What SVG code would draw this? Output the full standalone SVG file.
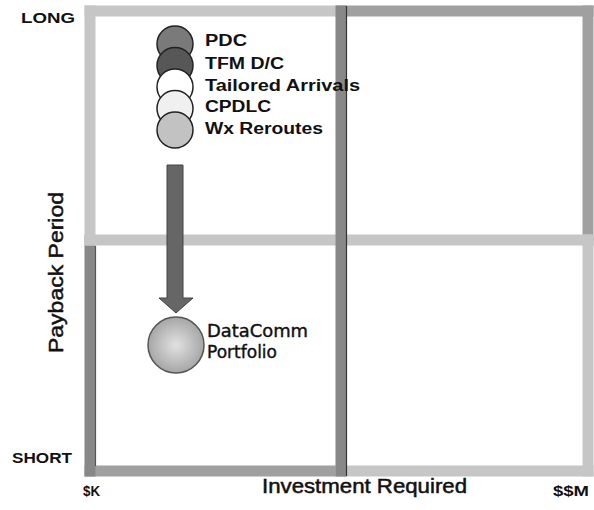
<svg xmlns="http://www.w3.org/2000/svg" width="594" height="510" viewBox="0 0 594 510">
<defs>
<style>
.edge{fill:none;stroke-width:11;stroke-linecap:square}
.light{stroke:#c6c6c6}
.mid{stroke:#a0a0a0}
.dark{stroke:#888}
.lbl{font-family:"Liberation Sans",Arial,sans-serif;font-weight:bold;fill:#111}
.axis{font-family:"Liberation Sans",Arial,sans-serif;fill:#111;stroke:#111;stroke-width:0.5}
.node{stroke:#222;stroke-width:1.5}
.pf{font-family:"DejaVu Sans",Verdana,sans-serif;fill:#111;stroke:#111;stroke-width:0.4}
.arrow{fill:#666;stroke:#444;stroke-width:1}
</style>
<radialGradient id="pfGrad" cx="0.5" cy="0.5" r="0.5">
<stop offset="0" stop-color="#e2e2e2"/>
<stop offset="1" stop-color="#a6a6a6"/>
</radialGradient>
</defs>
<rect width="594" height="510" fill="#fff"/>
<g id="quadrants">
<line class="edge mid" x1="341" y1="11" x2="588" y2="11"/>
<line class="edge mid" x1="588" y1="11" x2="588" y2="240"/>
<line class="edge mid" x1="90" y1="471" x2="341" y2="471"/>
<line class="edge dark" x1="90" y1="240" x2="90" y2="471"/>
<line x1="95.5" y1="246" x2="95.5" y2="466" stroke="#555" stroke-width="1.2"/>
<line class="edge light" x1="341" y1="471" x2="588" y2="471"/>
<line class="edge light" x1="588" y1="240" x2="588" y2="471"/>
<line class="edge light" x1="90" y1="11" x2="341" y2="11"/>
<line class="edge light" x1="90" y1="11" x2="90" y2="240"/>
<line class="edge light" x1="90" y1="240" x2="588" y2="240"/>
<line class="edge dark" x1="341" y1="11" x2="341" y2="471"/>
<line x1="346.5" y1="6" x2="346.5" y2="476" stroke="#333" stroke-width="1.2"/>
</g>
<g id="axis-labels">
<text class="lbl" x="21" y="23" font-size="15" textLength="54" lengthAdjust="spacingAndGlyphs">LONG</text>
<text class="lbl" x="12" y="463" font-size="14" textLength="60" lengthAdjust="spacingAndGlyphs">SHORT</text>
<text class="lbl" x="83" y="496" font-size="14" textLength="17" lengthAdjust="spacingAndGlyphs">$K</text>
<text class="lbl" x="553" y="496" font-size="14" textLength="36" lengthAdjust="spacingAndGlyphs">$$M</text>
<text class="axis" x="262" y="493" font-size="20" textLength="205" lengthAdjust="spacingAndGlyphs">Investment Required</text>
<text class="axis" transform="translate(63,272.5) rotate(-90)" x="0" y="0" text-anchor="middle" font-size="20" textLength="161" lengthAdjust="spacingAndGlyphs">Payback Period</text>
</g>
<g id="node-pdc">
<circle class="node" cx="175" cy="44" r="18" fill="#7a7a7a"/>
<text class="lbl" x="205" y="46" font-size="16" textLength="42" lengthAdjust="spacingAndGlyphs">PDC</text>
</g>
<g id="node-tfm">
<circle class="node" cx="175" cy="65.5" r="18" fill="#575757"/>
<text class="lbl" x="205" y="68.5" font-size="16" textLength="79" lengthAdjust="spacingAndGlyphs">TFM D/C</text>
</g>
<g id="node-ta">
<circle class="node" cx="175" cy="87" r="18" fill="#ffffff"/>
<text class="lbl" x="205" y="90.5" font-size="16" textLength="155" lengthAdjust="spacingAndGlyphs">Tailored Arrivals</text>
</g>
<g id="node-cpdlc">
<circle class="node" cx="175" cy="108.5" r="18" fill="#f0f0f0"/>
<text class="lbl" x="205" y="112" font-size="16" textLength="66" lengthAdjust="spacingAndGlyphs">CPDLC</text>
</g>
<g id="node-wx">
<circle class="node" cx="175" cy="130" r="18" fill="#c2c2c2"/>
<text class="lbl" x="205" y="133.5" font-size="16" textLength="118" lengthAdjust="spacingAndGlyphs">Wx Reroutes</text>
</g>
<g id="connectors">
<path class="arrow" d="M167,165 L183,165 L183,298 L193,298 L176,313 L159,298 L167,298 Z"/>
</g>
<g id="node-portfolio">
<circle cx="176" cy="345" r="28" fill="url(#pfGrad)" stroke="#555" stroke-width="1.5"/>
<text class="pf" x="207" y="337" font-size="17" textLength="101" lengthAdjust="spacingAndGlyphs">DataComm</text>
<text class="pf" x="207" y="358" font-size="17" textLength="70" lengthAdjust="spacingAndGlyphs">Portfolio</text>
</g>
</svg>
